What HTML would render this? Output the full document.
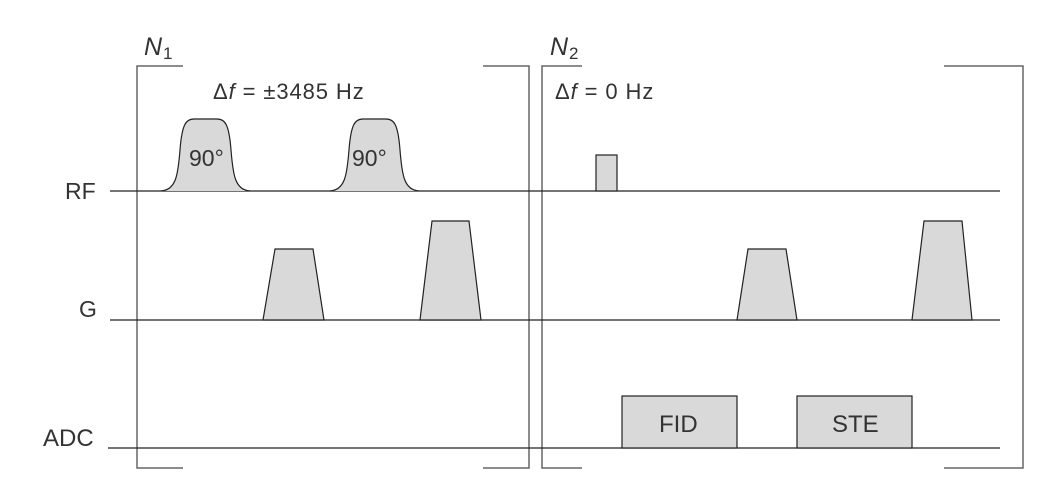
<!DOCTYPE html>
<html><head><meta charset="utf-8"><style>
html,body{margin:0;padding:0;background:#fff;}
svg{display:block;}
text{font-family:"Liberation Sans",sans-serif;fill:#333;}
</style></head><body>
<svg width="1061" height="496" viewBox="0 0 1061 496" xmlns="http://www.w3.org/2000/svg">
<g fill="none" stroke="#666" stroke-width="1.5">
<path d="M183 66 H137 V468 H183"/>
<path d="M483 66 H529 V468 H483"/>
<path d="M582 66 H542 V468 H582"/>
<path d="M944 66 H1023 V468 H944"/>
</g>
<g stroke="#222" stroke-width="1.3">
<line x1="110" y1="191" x2="1000" y2="191"/>
<line x1="110" y1="320" x2="1000" y2="320"/>
<line x1="108" y1="448" x2="1000" y2="448"/>
</g>
<g fill="#d9d9d9" stroke="#222" stroke-width="1.2">
<path d="M161 191 C176 190 178 175 180 150 C182 124 186 119 194 119 L217 119 C225 119 229 124 231 150 C233 175 235 190 250 191"/>
<path d="M330 191 C345 190 347 175 349 150 C351 124 355 119 363 119 L386 119 C394 119 398 124 400 150 C402 175 404 190 419 191"/>
<rect x="596" y="155" width="21" height="36"/>
<path d="M263 320 L275 249 L313 249 L324 320 Z"/>
<path d="M420 320 L432 221 L469 221 L481 320 Z"/>
<path d="M737 320 L748 249 L786 249 L797 320 Z"/>
<path d="M912 320 L924 221 L962 221 L972 320 Z"/>
<rect x="622" y="396" width="115" height="52"/>
<rect x="797" y="396" width="115" height="52"/>
</g>
<g font-size="23">
<text x="65" y="199">RF</text>
<text x="79" y="317">G</text>
<text x="43" y="446" font-size="24">ADC</text>
<text x="189" y="166" font-size="23">90°</text>
<text x="352" y="166" font-size="23">90°</text>
<text x="659" y="432" font-size="24">FID</text>
<text x="832" y="432" font-size="24">STE</text>
<text x="213" y="99" font-size="22" letter-spacing="0.9">Δ<tspan font-style="italic">f</tspan> = ±3485 Hz</text>
<text x="555" y="99" font-size="22" letter-spacing="0.9">Δ<tspan font-style="italic">f</tspan> = 0 Hz</text>
<text x="144" y="55" font-size="25" font-style="italic">N</text>
<text x="163" y="59" font-size="17">1</text>
<text x="550" y="55" font-size="25" font-style="italic">N</text>
<text x="569" y="59" font-size="17">2</text>
</g>
</svg>
</body></html>
